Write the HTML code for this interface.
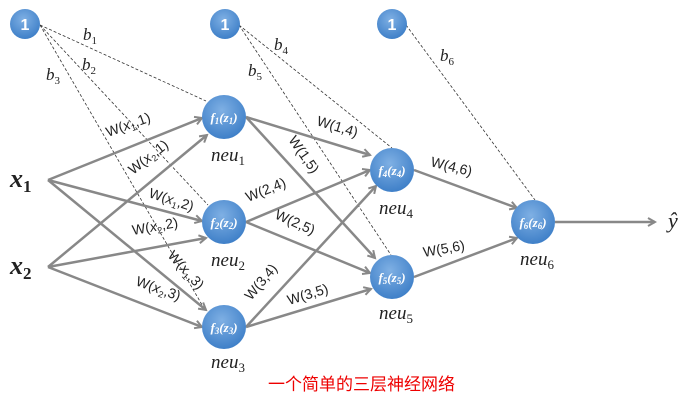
<!DOCTYPE html>
<html><head><meta charset="utf-8"><style>
body{margin:0;background:#fff}
svg text{font-family:"Liberation Serif","DejaVu Serif",serif;font-style:italic;fill:#222}
svg .w text{font-family:"Liberation Sans",sans-serif;font-style:normal;font-size:14px}
svg .f text{fill:#fff;font-size:13px;font-weight:bold}
</style></head><body>
<svg width="693" height="405" viewBox="0 0 693 405" xmlns="http://www.w3.org/2000/svg">
<defs>
<radialGradient id="g" cx="45%" cy="35%" r="70%"><stop offset="0" stop-color="#7fb0e4"/><stop offset="1" stop-color="#3a7cc6"/></radialGradient>
<marker id="a" markerWidth="10" markerHeight="10" refX="8" refY="5" orient="auto" markerUnits="userSpaceOnUse"><path d="M1,1 L8,5 L1,9" fill="none" stroke="#888" stroke-width="2"/></marker>
</defs>
<g stroke="#333" stroke-width="0.8" stroke-dasharray="3,2" fill="none">
<line x1="40" y1="25" x2="206" y2="101"/>
<line x1="40" y1="25" x2="208" y2="205"/>
<line x1="40" y1="25" x2="205" y2="310"/>
<line x1="239" y1="25" x2="392" y2="148"/>
<line x1="239" y1="25" x2="391" y2="255"/>
<line x1="406" y1="25" x2="535" y2="200"/>
</g>
<g stroke="#888" stroke-width="2.5" fill="none" marker-end="url(#a)">
<line x1="48" y1="180" x2="202" y2="118"/>
<line x1="48" y1="180" x2="202" y2="221"/>
<line x1="48" y1="180" x2="206" y2="310"/>
<line x1="48" y1="267" x2="207" y2="135"/>
<line x1="48" y1="267" x2="206" y2="238"/>
<line x1="48" y1="267" x2="202" y2="327"/>
<line x1="246" y1="117" x2="370" y2="155"/>
<line x1="246" y1="117" x2="375" y2="258"/>
<line x1="246" y1="222" x2="370" y2="170"/>
<line x1="246" y1="222" x2="370" y2="273"/>
<line x1="246" y1="327" x2="376" y2="186"/>
<line x1="246" y1="327" x2="371" y2="289"/>
<line x1="414" y1="170" x2="517" y2="208"/>
<line x1="414" y1="277" x2="517" y2="238"/>
<line x1="555" y1="222" x2="655" y2="222"/>
</g>
<g fill="url(#g)">
<circle cx="25" cy="24" r="15"/><circle cx="225" cy="24" r="15"/><circle cx="392" cy="24" r="15"/>
<circle cx="224" cy="117" r="22"/><circle cx="224" cy="222" r="22"/><circle cx="224" cy="327" r="22"/>
<circle cx="392" cy="170" r="22"/><circle cx="392" cy="277" r="22"/><circle cx="533" cy="222" r="22"/>
</g>
<text x="25" y="30" text-anchor="middle" style="fill:#fff;font-style:normal;font-family:'Liberation Sans',sans-serif;font-weight:bold;font-size:16px">1</text>
<text x="225" y="30" text-anchor="middle" style="fill:#fff;font-style:normal;font-family:'Liberation Sans',sans-serif;font-weight:bold;font-size:16px">1</text>
<text x="392" y="30" text-anchor="middle" style="fill:#fff;font-style:normal;font-family:'Liberation Sans',sans-serif;font-weight:bold;font-size:16px">1</text>
<g class="f" text-anchor="middle">
<text x="224" y="122">f<tspan font-size="9" dy="2">1</tspan><tspan dy="-2">(z</tspan><tspan font-size="9" dy="2">1</tspan><tspan dy="-2">)</tspan></text>
<text x="224" y="227">f<tspan font-size="9" dy="2">2</tspan><tspan dy="-2">(z</tspan><tspan font-size="9" dy="2">2</tspan><tspan dy="-2">)</tspan></text>
<text x="224" y="332">f<tspan font-size="9" dy="2">3</tspan><tspan dy="-2">(z</tspan><tspan font-size="9" dy="2">3</tspan><tspan dy="-2">)</tspan></text>
<text x="392" y="175">f<tspan font-size="9" dy="2">4</tspan><tspan dy="-2">(z</tspan><tspan font-size="9" dy="2">4</tspan><tspan dy="-2">)</tspan></text>
<text x="392" y="282">f<tspan font-size="9" dy="2">5</tspan><tspan dy="-2">(z</tspan><tspan font-size="9" dy="2">5</tspan><tspan dy="-2">)</tspan></text>
<text x="533" y="227">f<tspan font-size="9" dy="2">6</tspan><tspan dy="-2">(z</tspan><tspan font-size="9" dy="2">6</tspan><tspan dy="-2">)</tspan></text>
</g>
<g text-anchor="middle" style="font-size:19px">
<text x="228" y="161" style="font-size:19px">neu<tspan font-size="13" dy="4" font-style="normal">1</tspan></text>
<text x="228" y="266" style="font-size:19px">neu<tspan font-size="13" dy="4" font-style="normal">2</tspan></text>
<text x="228" y="368" style="font-size:19px">neu<tspan font-size="13" dy="4" font-style="normal">3</tspan></text>
<text x="396" y="214" style="font-size:19px">neu<tspan font-size="13" dy="4" font-style="normal">4</tspan></text>
<text x="396" y="319" style="font-size:19px">neu<tspan font-size="13" dy="4" font-style="normal">5</tspan></text>
<text x="537" y="265" style="font-size:19px">neu<tspan font-size="13" dy="4" font-style="normal">6</tspan></text>
</g>
<text x="10" y="187" style="font-size:26px;font-weight:bold">x<tspan font-size="17" dy="5" font-style="normal">1</tspan></text>
<text x="10" y="274" style="font-size:26px;font-weight:bold">x<tspan font-size="17" dy="5" font-style="normal">2</tspan></text>
<text x="668" y="228" style="font-size:22px">ŷ</text>
<g>
<text x="83" y="40" style="font-size:17px">b<tspan font-size="11" dy="4" font-style="normal">1</tspan></text>
<text x="82" y="70" style="font-size:17px">b<tspan font-size="11" dy="4" font-style="normal">2</tspan></text>
<text x="46" y="80" style="font-size:17px">b<tspan font-size="11" dy="4" font-style="normal">3</tspan></text>
<text x="274" y="50" style="font-size:17px">b<tspan font-size="11" dy="4" font-style="normal">4</tspan></text>
<text x="248" y="76" style="font-size:17px">b<tspan font-size="11" dy="4" font-style="normal">5</tspan></text>
<text x="440" y="61" style="font-size:17px">b<tspan font-size="11" dy="4" font-style="normal">6</tspan></text>
</g>
<g class="w">
<text transform="translate(108,137) rotate(-20)">W(<tspan font-style="italic">x</tspan><tspan font-size="9" dy="3">1</tspan><tspan dy="-3">,1)</tspan></text>
<text transform="translate(133,175) rotate(-38)">W(<tspan font-style="italic">x</tspan><tspan font-size="9" dy="3">2</tspan><tspan dy="-3">,1)</tspan></text>
<text transform="translate(148,197) rotate(18)">W(<tspan font-style="italic">x</tspan><tspan font-size="9" dy="3">1</tspan><tspan dy="-3">,2)</tspan></text>
<text transform="translate(133,235) rotate(-10)">W(<tspan font-style="italic">x</tspan><tspan font-size="9" dy="3">2</tspan><tspan dy="-3">,2)</tspan></text>
<text transform="translate(167,256) rotate(48)">W(<tspan font-style="italic">x</tspan><tspan font-size="9" dy="3">1</tspan><tspan dy="-3">,3)</tspan></text>
<text transform="translate(135,285) rotate(20)">W(<tspan font-style="italic">x</tspan><tspan font-size="9" dy="3">2</tspan><tspan dy="-3">,3)</tspan></text>
<text transform="translate(316,125) rotate(17)">W(1,4)</text>
<text transform="translate(288,140) rotate(55)">W(1,5)</text>
<text transform="translate(248,202) rotate(-22)">W(2,4)</text>
<text transform="translate(274,218) rotate(24)">W(2,5)</text>
<text transform="translate(251,301) rotate(-50)">W(3,4)</text>
<text transform="translate(289,305) rotate(-17)">W(3,5)</text>
<text transform="translate(430,166) rotate(14)">W(4,6)</text>
<text transform="translate(424,257) rotate(-10)">W(5,6)</text>
</g>
<text x="268" y="390" style="font-family:'Liberation Sans','Noto Sans CJK SC',sans-serif;font-style:normal;font-size:17px;fill:#e00">一个简单的三层神经网络</text>
</svg>
</body></html>
